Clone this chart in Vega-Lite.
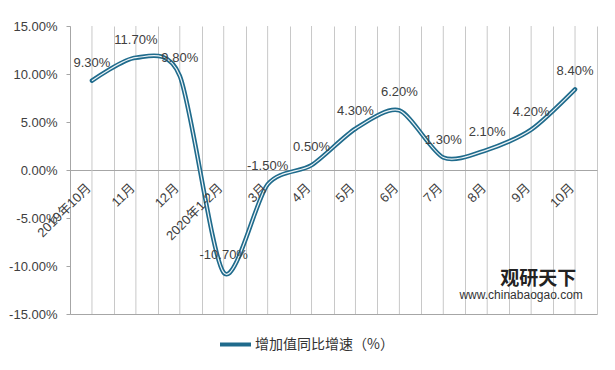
{
  "$schema": "https://vega.github.io/schema/vega-lite/v6.json",
  "width": 527,
  "height": 288,
  "autosize": {"type": "none"},
  "padding": {"left": 70, "top": 26, "right": 18, "bottom": 56},
  "background": "white",
  "config": {
    "view": {"stroke": null},
    "locale": {"number": {"decimal": ".", "thousands": ",", "grouping": [3], "currency": ["$", ""], "minus": "-"}}
  },
  "data": {
    "values": [
      {"month": "2019年10月", "value": 0.093, "series": "增加值同比增速（%）"},
      {"month": "11月", "value": 0.117, "series": "增加值同比增速（%）"},
      {"month": "12月", "value": 0.098, "series": "增加值同比增速（%）"},
      {"month": "2020年1-2月", "value": -0.107, "series": "增加值同比增速（%）"},
      {"month": "3月", "value": -0.015, "series": "增加值同比增速（%）"},
      {"month": "4月", "value": 0.005, "series": "增加值同比增速（%）"},
      {"month": "5月", "value": 0.043, "series": "增加值同比增速（%）"},
      {"month": "6月", "value": 0.062, "series": "增加值同比增速（%）"},
      {"month": "7月", "value": 0.013, "series": "增加值同比增速（%）"},
      {"month": "8月", "value": 0.021, "series": "增加值同比增速（%）"},
      {"month": "9月", "value": 0.042, "series": "增加值同比增速（%）"},
      {"month": "10月", "value": 0.084, "series": "增加值同比增速（%）"}
    ]
  },
  "encoding": {
    "x": {
      "field": "month",
      "type": "nominal",
      "sort": null,
      "bandPosition": 0.5,
      "scale": {"type": "band", "paddingInner": 0, "paddingOuter": 0},
      "axis": {
        "title": null,
        "labels": false,
        "ticks": false,
        "domain": true,
        "domainColor": "#A6A6A6",
        "grid": true,
        "gridColor": "#C8C8C8",
        "tickBand": "extent"
      }
    }
  },
  "layer": [
    {
      "mark": {"type": "rule", "color": "#C8C8C8", "strokeWidth": 1},
      "encoding": {}
    },
    {
      "mark": {"type": "line", "interpolate": "cardinal", "tension": 0.2, "strokeWidth": 4.5, "strokeCap": "round"},
      "encoding": {
        "y": {
          "field": "value",
          "type": "quantitative",
          "scale": {"domain": [-0.15, 0.15], "nice": false, "zero": false},
          "axis": {
            "title": null,
            "values": [-0.15, -0.1, -0.05, 0, 0.05, 0.1, 0.15],
            "format": ".2%",
            "labelFont": "Liberation Sans",
            "labelFontSize": 13,
            "labelColor": "#404040",
            "labelPadding": 9,
            "tickSize": 4,
            "tickColor": "#A6A6A6",
            "domainColor": "#A6A6A6",
            "grid": true,
            "gridColor": {"condition": {"test": "datum.value === 0", "value": "#A6A6A6"}, "value": "transparent"}
          }
        },
        "color": {
          "field": "series",
          "type": "nominal",
          "scale": {"range": ["#1F6B8C"]},
          "legend": {
            "title": null,
            "orient": "none",
            "legendX": 148,
            "legendY": 301,
            "symbolType": "stroke",
            "symbolStrokeWidth": 4,
            "symbolSize": 961,
            "labelFont": "Noto Sans CJK SC",
            "labelFontSize": 14,
            "labelColor": "#333333",
            "labelOffset": 2
          }
        }
      }
    },
    {
      "mark": {"type": "line", "interpolate": "cardinal", "tension": 0.2, "strokeWidth": 1.2, "color": "#EEF4F7"},
      "encoding": {"y": {"field": "value", "type": "quantitative"}}
    },
    {
      "mark": {"type": "text", "baseline": "middle", "dy": -18, "font": "Liberation Sans", "fontSize": 13, "color": "#404040"},
      "encoding": {
        "y": {"field": "value", "type": "quantitative"},
        "text": {"field": "value", "type": "quantitative", "format": ".2%"}
      }
    },
    {
      "mark": {"type": "text", "angle": 315, "align": "right", "baseline": "middle", "xOffset": -3, "yOffset": 16, "font": "Liberation Sans, Noto Sans CJK SC", "fontSize": 13, "color": "#404040"},
      "encoding": {
        "y": {"datum": 0, "type": "quantitative"},
        "text": {"field": "month", "type": "nominal"}
      }
    },
    {
      "data": {"values": [{"t": "观研天下"}]},
      "mark": {"type": "text", "align": "center", "baseline": "middle", "xOffset": 7, "font": "Noto Sans CJK SC", "fontSize": 19, "fontWeight": "bold", "color": "#222222"},
      "encoding": {
        "x": {"datum": "9月", "type": "nominal", "bandPosition": 0.5},
        "y": {"datum": -0.1135, "type": "quantitative"},
        "text": {"field": "t", "type": "nominal"}
      }
    },
    {
      "data": {"values": [{"t": "www.chinabaogao.com"}]},
      "mark": {"type": "text", "align": "center", "baseline": "middle", "xOffset": -10, "font": "Liberation Sans", "fontSize": 12, "color": "#333333"},
      "encoding": {
        "x": {"datum": "9月", "type": "nominal", "bandPosition": 0.5},
        "y": {"datum": -0.130, "type": "quantitative"},
        "text": {"field": "t", "type": "nominal"}
      }
    }
  ]
}
